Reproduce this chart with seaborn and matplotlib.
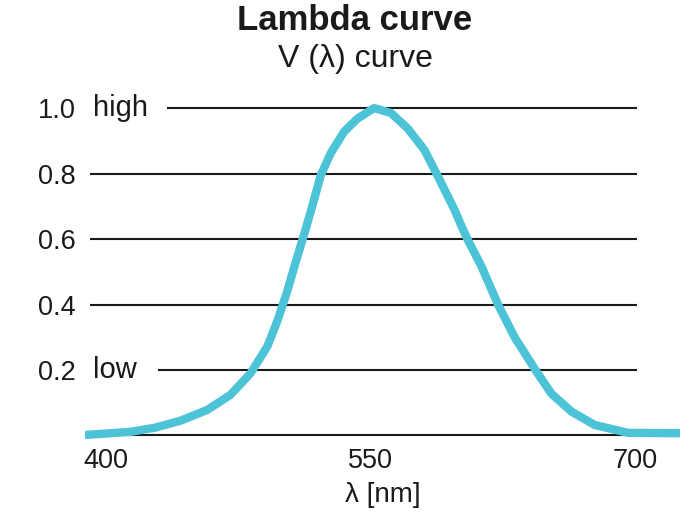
import matplotlib
matplotlib.use("Agg")
import matplotlib.pyplot as plt
import seaborn as sns
import pandas as pd

# ── Data ────────────────────────────────────────────────────────────────────
wavelength = [389.2, 413.8, 428.0, 442.2, 457.4, 470.6, 482.0, 491.5, 497.2,
              502.4, 507.6, 513.2, 517.0, 521.8, 527.4, 535.0, 542.6, 552.0,
              561.5, 571.0, 580.5, 587.8, 593.8, 597.5, 601.3, 605.1, 612.7,
              622.2, 631.6, 643.5, 652.4, 663.8, 677.0, 696.0, 725.3]
sensitivity = [0.002, 0.011, 0.024, 0.045, 0.078, 0.124, 0.190, 0.272, 0.350,
               0.434, 0.530, 0.630, 0.701, 0.795, 0.862, 0.928, 0.968, 1.000,
               0.985, 0.938, 0.872, 0.795, 0.730, 0.690, 0.642, 0.597, 0.518,
               0.400, 0.300, 0.199, 0.128, 0.073, 0.032, 0.008, 0.007]

x_ticks = [400, 550, 700]
y_ticks = [0.2, 0.4, 0.6, 0.8, 1.0]
y_tick_labels = ["0.2", "0.4", "0.6", "0.8", "1.0"]

# reference lines: level, where each one starts (nm)
grid_levels = [0.0, 0.2, 0.4, 0.6, 0.8, 1.0]
grid_starts = [413.8, 429.7, 391.1, 391.1, 391.1, 434.8]
grid_end = 700.7

df = pd.DataFrame({"wavelength": wavelength, "sensitivity": sensitivity})

sns.set_theme(style="white")
plt.rcParams["font.family"] = ["Liberation Sans", "DejaVu Sans"]

fig = plt.figure(figsize=(6.92, 5.14), dpi=100)
ax = fig.add_axes([85 / 692, 0.140, (680 - 85) / 692, 0.6625])

# ── Reference lines ─────────────────────────────────────────────────────────
for lvl, start in zip(grid_levels, grid_starts):
    ax.hlines(lvl, start, grid_end, color="#1a1a1a", linewidth=1.5, zorder=1)

# ── Curve ───────────────────────────────────────────────────────────────────
sns.lineplot(data=df, x="wavelength", y="sensitivity", color="#4DC3D7",
             linewidth=6, ax=ax, zorder=3)
ax.lines[-1].set_solid_joinstyle("round")

ax.set_xlim(388.2, 725.3)
ax.set_ylim(-0.02, 1.02)
for s in ax.spines.values():
    s.set_visible(False)

ax.set_xticks(x_ticks)
ax.set_xticklabels([str(t) for t in x_ticks], fontsize=19.5, color="#1a1a1a")
ax.set_yticks(y_ticks)
ax.set_yticklabels(y_tick_labels, fontsize=19.5, color="#1a1a1a")
ax.tick_params(axis="both", length=0)
ax.tick_params(axis="y", pad=7)
ax.tick_params(axis="x", pad=4)

ax.text(392.5, 1.0, "high", fontsize=21, va="center", ha="left", color="#1a1a1a")
ax.text(392.5, 0.2, "low", fontsize=21, va="center", ha="left", color="#1a1a1a")

ax.set_xlabel("λ [nm]", fontsize=20, color="#1a1a1a", labelpad=6)
ax.set_ylabel("")

fig.text(355 / 692, 1 - 21 / 514, "Lambda curve", fontsize=25, fontweight="bold",
         ha="center", va="center", color="#1a1a1a")
fig.text(355 / 692, 1 - 59 / 514, "V (λ) curve", fontsize=23,
         ha="center", va="center", color="#1a1a1a")

fig.savefig("out.png", dpi=100)
